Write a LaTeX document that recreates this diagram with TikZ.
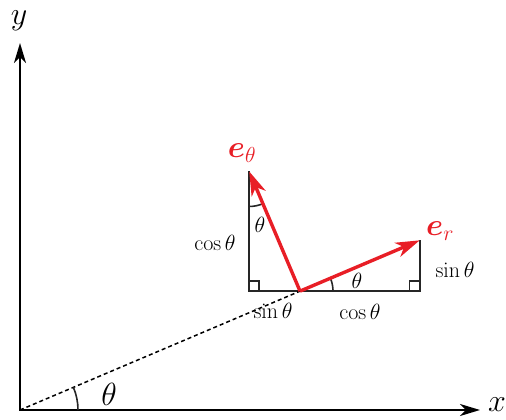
\RequirePackage{fix-cm}
\documentclass[tikz,border=0pt]{standalone}
\usepackage{bm}
\usetikzlibrary{arrows.meta,calc}
\definecolor{vred}{RGB}{232,30,38}
\begin{document}
\begin{tikzpicture}[x=1pt,y=1pt,
 axis/.style={line width=2.2pt,{Stealth[length=20pt,width=12pt,inset=6pt]}-{Stealth[length=20pt,width=12pt,inset=6pt]}},
 guide/.style={line width=2pt, black!85},
 arcline/.style={line width=1.6pt, black!85},
 vec/.style={vred, line width=3.4pt, -{Stealth[length=24pt,width=15pt,inset=7pt]}},
 lbl/.style={inner sep=0pt, font=\fontsize{22}{26}\selectfont},
 big/.style={inner sep=0pt, font=\fontsize{32}{36}\selectfont},
 elbl/.style={inner sep=0pt, text=vred, font=\fontsize{31}{35}\selectfont}
]
\useasboundingbox (0,0) rectangle (506,420);
\coordinate (O) at (20,10);
\coordinate (X) at (480,10);
\coordinate (Y) at (20,377);
\coordinate (P) at ($(O)+(23:304.2)$);
\coordinate (Er) at ($(P)+(23:130)$);
\coordinate (Et) at ($(P)+(113:130)$);
\coordinate (A) at (Et |- P);
\coordinate (B) at (Er |- P);

\draw[guide] (Et) -- (A) -- (B) -- (Er);
\draw[arcline] ($(A)+(0,10)$) -| ($(A)+(10,0)$);
\draw[arcline] ($(B)+(0,10)$) -| ($(B)+(-10,0)$);

\draw[line width=1.5pt, dash pattern=on 4pt off 3pt] (O) -- (P);
\draw[axis] (Y) -- (O) -- (X);

\draw[arcline] ($(O)+(58,0)$) arc[start angle=0, end angle=23, radius=58];
\draw[arcline] ($(P)+(33,0)$) arc[start angle=0, end angle=23, radius=33];
\draw[arcline] ($(Et)+(-90:35)$) arc[start angle=-90, end angle=-67, radius=35];

\draw[vec] (P) -- (Er);
\draw[vec] (P) -- (Et);

\node[big] (ylab) at (19,399) {$y$};
\node[big] (xlab) at (497,15) {$x$};
\node[big] (th0) at (109,26) {$\theta$};
\node[elbl] (etl) at (242,267) {$\bm{e}_\theta$};
\node[elbl] (erl) at (440,189) {$\bm{e}_r$};
\node[lbl] (c1) at (215,177) {$\cos\theta$};
\node[lbl] (t1) at (260,195) {$\theta$};
\node[lbl] (t2) at (357,139) {$\theta$};
\node[lbl] (s1) at (273,109) {$\sin\theta$};
\node[lbl] (c2) at (360,108) {$\cos\theta$};
\node[lbl] (s2) at (455,150) {$\sin\theta$};
\end{tikzpicture}
\end{document}
